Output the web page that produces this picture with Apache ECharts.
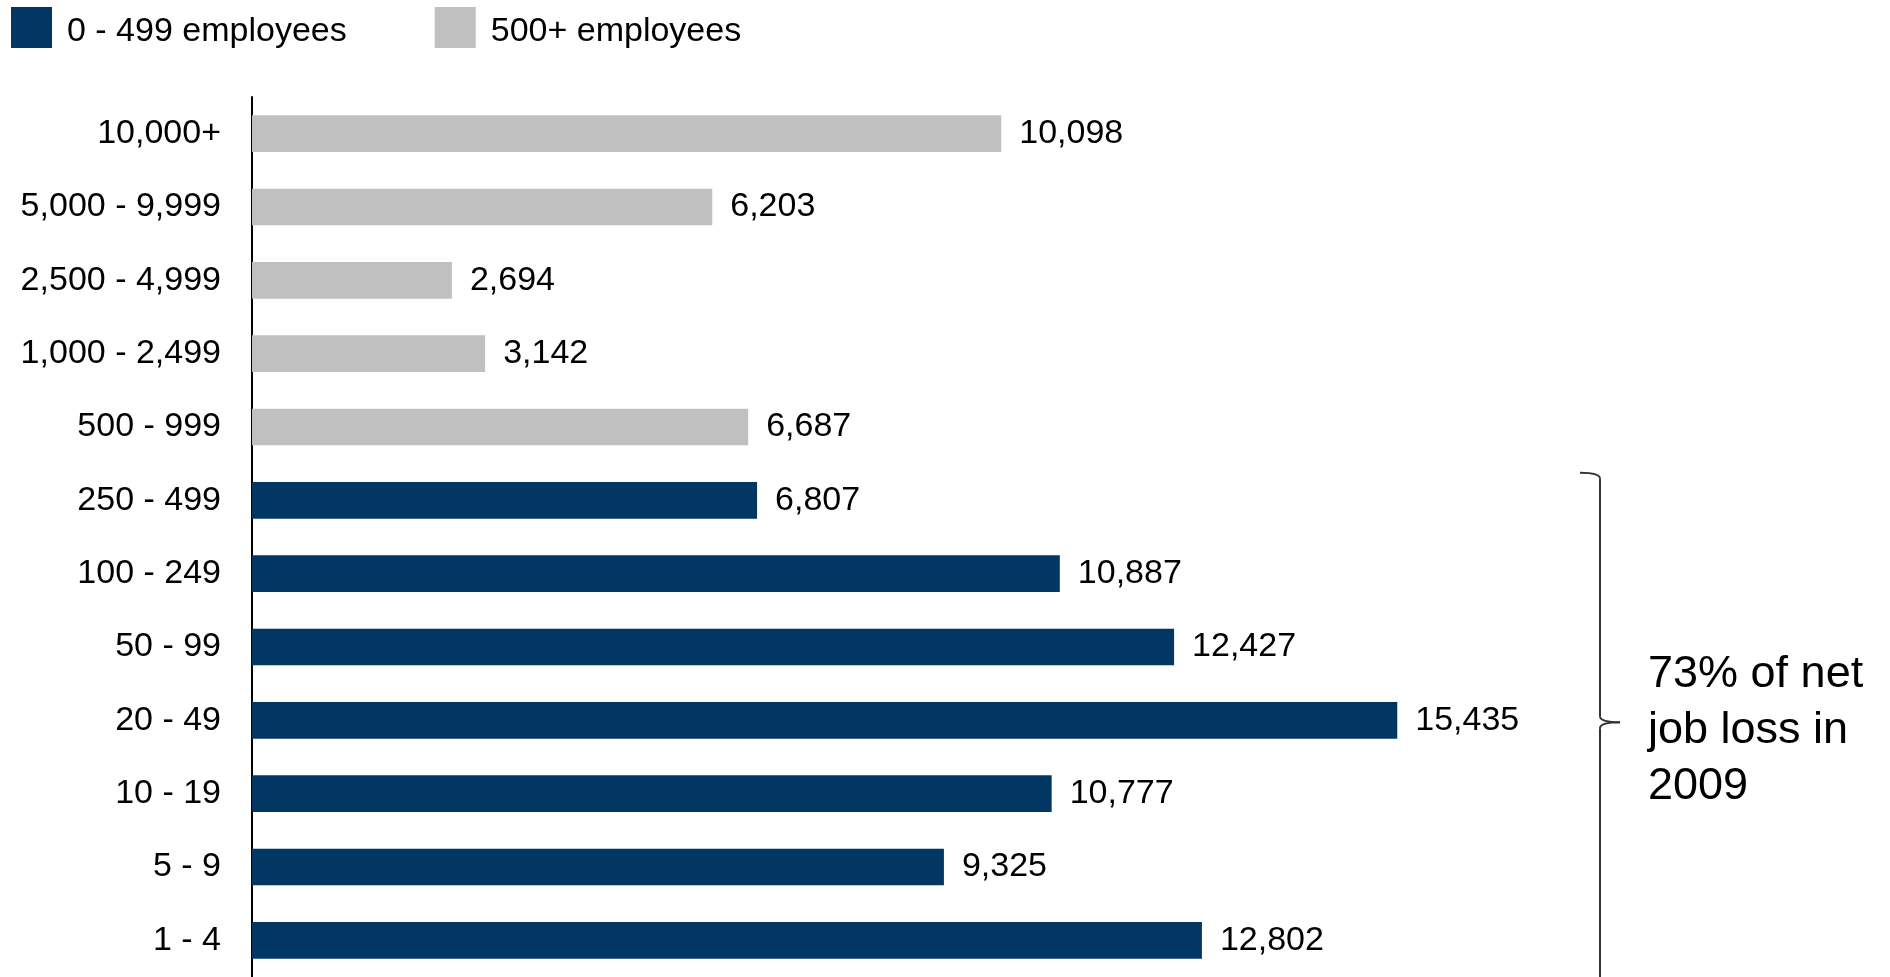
<!DOCTYPE html>
<html>
<head>
<meta charset="utf-8">
<script src="https://cdn.jsdelivr.net/npm/echarts@6/dist/echarts.min.js"></script>
<style>
html,body{margin:0;padding:0;background:#fff;}
#chart{width:1890px;height:977px;}
</style>
</head>
<body>
<div id="chart"></div>
<script>
const categories = ['10,000+', '5,000 - 9,999', '2,500 - 4,999', '1,000 - 2,499', '500 - 999', '250 - 499', '100 - 249', '50 - 99', '20 - 49', '10 - 19', '5 - 9', '1 - 4'];
const smallFirms = ['-', '-', '-', '-', '-', 6807, 10887, 12427, 15435, 10777, 9325, 12802];
const largeFirms = [10098, 6203, 2694, 3142, 6687, '-', '-', '-', '-', '-', '-', '-'];
const seriesNames = ['0 - 499 employees', '500+ employees'];
const annotationLines = ['73% of net', 'job loss in', '2009'];

const FONT = "'Liberation Sans', Arial, sans-serif";
const chart = echarts.init(document.getElementById('chart'));
const fmt = p => Number(p.value).toLocaleString('en-US');

const labelCfg = {
  show: true, position: 'right', distance: 18,
  color: '#000', fontSize: 34, fontFamily: FONT, formatter: fmt
};

chart.setOption({
  animation: false,
  backgroundColor: '#fff',
  legend: {
    left: 11, top: 7, padding: 0,
    itemWidth: 41, itemHeight: 41, itemGap: 88,
    icon: 'rect',
    formatter: '{t|{name}}',
    textStyle: {
      fontSize: 34, fontFamily: FONT, color: '#000',
      rich: { t: { fontSize: 34, fontFamily: FONT, color: '#000', padding: [8, 0, 0, 10] } }
    },
    data: seriesNames
  },
  grid: { left: 252, width: 1484, top: 97, height: 882, containLabel: false },
  xAxis: { type: 'value', min: 0, max: 20000, show: false },
  yAxis: {
    type: 'category', data: categories, inverse: true,
    axisLine: { show: true, lineStyle: { color: '#000', width: 2 } },
    axisTick: { show: false },
    axisLabel: { margin: 31, color: '#000', fontSize: 34, fontFamily: FONT }
  },
  series: [
    { name: seriesNames[0], type: 'bar', stack: 'all', data: smallFirms, barWidth: '50%',
      itemStyle: { color: '#023764' }, label: labelCfg },
    { name: seriesNames[1], type: 'bar', stack: 'all', data: largeFirms, barWidth: '50%',
      itemStyle: { color: '#C0C0C0' }, label: labelCfg }
  ]
});

// Brace annotation positioned from the category axis
const yCenter = c => chart.convertToPixel({ yAxisIndex: 0 }, c);
const band = yCenter(categories[1]) - yCenter(categories[0]);
const topY = yCenter('250 - 499') - band / 2 + 9;
const tipY = yCenter('20 - 49') + 2;
const bx = 1600;
const braceStyle = { fill: null, stroke: '#333', lineWidth: 2 };

chart.setOption({
  graphic: [
    { type: 'bezierCurve', shape: { x1: 1580, y1: topY, x2: bx, y2: topY + 6, cpx1: bx, cpy1: topY }, style: braceStyle },
    { type: 'line', shape: { x1: bx, y1: topY + 6, x2: bx, y2: tipY - 6 }, style: braceStyle },
    { type: 'bezierCurve', shape: { x1: bx, y1: tipY - 6, x2: bx + 20, y2: tipY, cpx1: bx, cpy1: tipY }, style: braceStyle },
    { type: 'bezierCurve', shape: { x1: bx + 20, y1: tipY, x2: bx, y2: tipY + 6, cpx1: bx, cpy1: tipY }, style: braceStyle },
    { type: 'line', shape: { x1: bx, y1: tipY + 6, x2: bx, y2: 990 }, style: braceStyle },
    { type: 'text', x: 1648, y: tipY + 8,
      style: { text: annotationLines.join('\n'), font: `45px ${FONT}`, fill: '#000',
               lineHeight: 56, verticalAlign: 'middle', align: 'left' } }
  ]
});
</script>
</body>
</html>
